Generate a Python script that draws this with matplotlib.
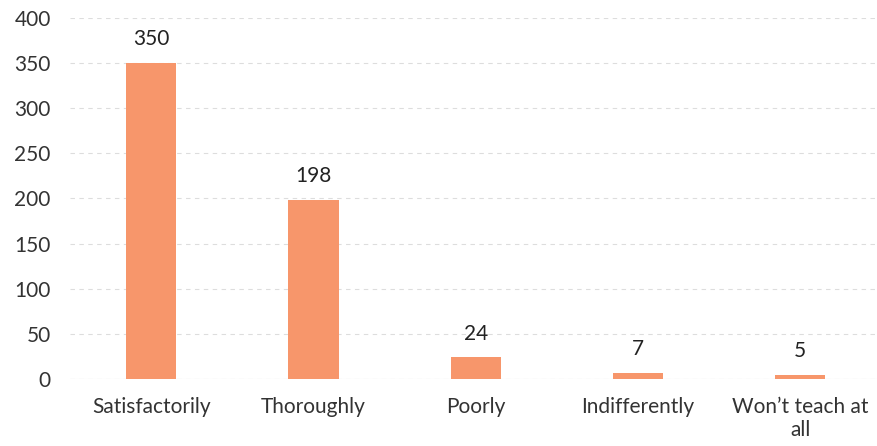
import matplotlib
matplotlib.use('Agg')
import matplotlib.pyplot as plt

categories = ['Satisfactorily', 'Thoroughly', 'Poorly', 'Indifferently', 'Won\u2019t teach at\nall']
counts = [350, 198, 24, 7, 5]
y_ticks = [0, 50, 100, 150, 200, 250, 300, 350, 400]

plt.rcParams['font.family'] = ['Lato', 'DejaVu Sans']

fig = plt.figure(figsize=(8.77, 4.46), dpi=100)
ax = fig.add_axes([0.08, 0.15, 0.925, 0.81])

x = range(len(categories))
bars = ax.bar(x, counts, width=0.31, color='#f7966b', zorder=2)
for rect, val in zip(bars, counts):
    ax.annotate(str(val), (rect.get_x() + rect.get_width() / 2, rect.get_height()),
                xytext=(0, 10), textcoords='offset points',
                ha='center', va='bottom', fontsize=15, color='#222222')

ax.set_xlim(-0.5, len(categories) - 0.5)
ax.set_ylim(0, 400)
ax.set_yticks(y_ticks)
ax.set_xticks(list(x))
ax.set_xticklabels(categories, linespacing=1.2)
ax.tick_params(axis='both', length=0, labelsize=15, labelcolor='#333333')
ax.tick_params(axis='x', pad=13)
ax.tick_params(axis='y', pad=14)
ax.grid(axis='y', color='#dddddd', linewidth=0.8, linestyle=(0, (4, 4)), zorder=0)
for spine in ax.spines.values():
    spine.set_visible(False)
ax.axhline(0, color='#dddddd', linewidth=0.8, zorder=1)

fig.savefig('out.png', dpi=100)
